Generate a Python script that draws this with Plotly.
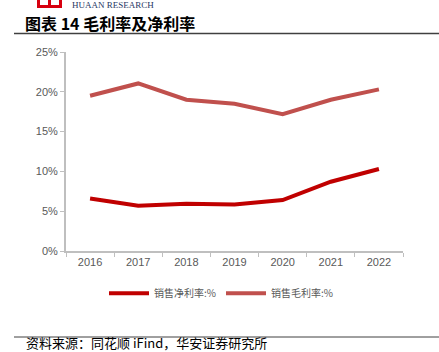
import plotly.graph_objects as go

years = ["2016", "2017", "2018", "2019", "2020", "2021", "2022"]
net_margin = [6.6, 5.7, 5.95, 5.85, 6.4, 8.7, 10.3]
gross_margin = [19.5, 21.05, 19.0, 18.5, 17.2, 19.0, 20.3]
y_ticks = [0, 5, 10, 15, 20, 25]
y_labels = ["0%", "5%", "10%", "15%", "20%", "25%"]

W, H = 439, 352
L, R, T, B = 66, 36, 52, 101


def px_x(x):
    return (x - L) / (W - L - R)


def px_y(y):
    return (H - B - y) / (H - T - B)


fig = go.Figure()
fig.add_trace(go.Scatter(x=years, y=net_margin, mode="lines", name="销售净利率:%",
                         line=dict(color="#C00000", width=4)))
fig.add_trace(go.Scatter(x=years, y=gross_margin, mode="lines", name="销售毛利率:%",
                         line=dict(color="#C0504D", width=4)))

axis_font = dict(family="Liberation Sans, Arial", size=11, color="#595959")
fig.update_layout(
    width=W, height=H,
    margin=dict(l=L, r=R, t=T, b=B),
    paper_bgcolor="white", plot_bgcolor="white",
    showlegend=True,
    legend=dict(orientation="h", x=px_x(104), xanchor="left", y=-0.14, yanchor="top",
                font=dict(family="Noto Sans CJK SC", size=10, color="#595959"),
                itemwidth=40, tracegroupgap=0),
    xaxis=dict(type="category", showgrid=False, showline=True, linecolor="#BFBFBF", linewidth=2,
               ticks="outside", tickson="boundaries", ticklen=4, tickcolor="#BFBFBF",
               tickfont=axis_font, range=[-0.5, 6.5], fixedrange=True),
    yaxis=dict(range=[0, 25], tickvals=y_ticks, ticktext=y_labels, showgrid=False,
               showline=True, linecolor="#BFBFBF", linewidth=2, ticks="outside", ticklen=4,
               tickcolor="#BFBFBF", tickfont=axis_font, zeroline=False),
)

# header: logo, brand, title, rules
fig.add_shape(type="rect", xref="paper", yref="paper",
              x0=px_x(37), x1=px_x(62), y0=px_y(8), y1=px_y(-2),
              fillcolor="#D7000F", line=dict(width=0))
fig.add_shape(type="rect", xref="paper", yref="paper",
              x0=px_x(40), x1=px_x(48), y0=px_y(5), y1=px_y(-2),
              fillcolor="white", line=dict(width=0))
fig.add_shape(type="rect", xref="paper", yref="paper",
              x0=px_x(51), x1=px_x(59), y0=px_y(5), y1=px_y(-2),
              fillcolor="white", line=dict(width=0))
fig.add_annotation(xref="paper", yref="paper", x=px_x(70), y=px_y(5), xanchor="left", yanchor="middle",
                   text="HUAAN RESEARCH", showarrow=False,
                   font=dict(family="Liberation Serif, Times New Roman", size=9, color="#1F3864"))
fig.add_annotation(xref="paper", yref="paper", x=px_x(23), y=px_y(23), xanchor="left", yanchor="middle",
                   text="<b>图表 14 毛利率及净利率</b>", showarrow=False,
                   font=dict(family="Noto Sans CJK SC", size=16, color="black"))
fig.add_shape(type="line", xref="paper", yref="paper",
              x0=px_x(14), x1=px_x(439), y0=px_y(33.5), y1=px_y(33.5),
              line=dict(color="#404040", width=1.5))
fig.add_shape(type="line", xref="paper", yref="paper",
              x0=px_x(14), x1=px_x(439), y0=px_y(337), y1=px_y(337),
              line=dict(color="#404040", width=1))
fig.add_annotation(xref="paper", yref="paper", x=px_x(24), y=px_y(342.5), xanchor="left", yanchor="middle",
                   text="资料来源：同花顺 iFind，华安证券研究所", showarrow=False,
                   font=dict(family="Noto Sans CJK SC", size=13, color="black"))

fig.write_html("out.html")
